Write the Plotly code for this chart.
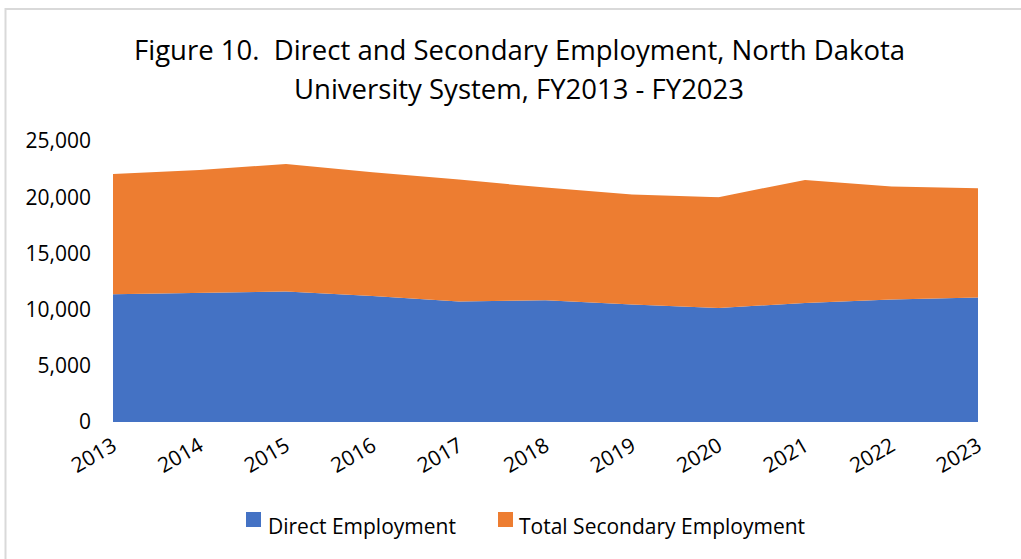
import plotly.graph_objects as go

years = [2013, 2014, 2015, 2016, 2017, 2018, 2019, 2020, 2021, 2022, 2023]
direct_employment = [11360, 11510, 11600, 11210, 10710, 10830, 10445, 10145, 10590, 10890, 11070]
secondary_employment = [10710, 10915, 11360, 11000, 10855, 10025, 9785, 9855, 10950, 10055, 9730]
y_ticks = [0, 5000, 10000, 15000, 20000, 25000]
series_names = ["Direct Employment", "Total Secondary Employment"]
series_colors = ["#4472C4", "#ED7D31"]
title_lines = ["Figure 10.  Direct and Secondary Employment, North Dakota",
               "University System, FY2013 - FY2023"]

FONT = "Open Sans"
L, R, T, B = 113, 978, 141, 422  # plot area in pixels


def px(x):
    return (x - L) / (R - L)


def py(y):
    return (B - y) / (B - T)


fig = go.Figure()
for vals, name, col in zip([direct_employment, secondary_employment], series_names, series_colors):
    fig.add_trace(go.Scatter(
        x=years, y=vals, name=name, mode="lines", stackgroup="one",
        line=dict(width=0, color=col), fillcolor=col, showlegend=False))

fig.update_layout(
    width=1021, height=559,
    margin=dict(l=L, r=1021 - R, t=T, b=559 - B),
    paper_bgcolor="white", plot_bgcolor="white",
    font=dict(family=FONT, color="#000000", size=21),
    xaxis=dict(
        range=[2013, 2023], tickmode="array", tickvals=years,
        ticktext=[str(y) for y in years], tickangle=-30,
        showgrid=False, zeroline=False, showline=False, ticks="",
        tickfont=dict(size=21), ticklabelstandoff=7),
    yaxis=dict(
        range=[0, 25000], tickvals=y_ticks, tickformat=",",
        showgrid=True, gridcolor="#D9D9D9", gridwidth=1,
        zeroline=False, showline=False, ticks="",
        tickfont=dict(size=21), ticklabelstandoff=21),
    showlegend=False,
)

# title (two lines)
for line, yy in zip(title_lines, [49.5, 88.5]):
    fig.add_annotation(
        text=line, xref="paper", yref="paper",
        x=px(519), y=py(yy),
        xanchor="center", yanchor="middle", showarrow=False,
        font=dict(family=FONT, size=27.5, color="#000000"))

# legend: square swatches + labels
for name, col, sx, tx in zip(series_names, series_colors, [246, 498], [266, 517]):
    fig.add_shape(type="rect", xref="paper", yref="paper",
                  x0=px(sx), x1=px(sx + 15), y0=py(527), y1=py(512),
                  line=dict(width=0), fillcolor=col)
    fig.add_annotation(
        text=name, xref="paper", yref="paper", x=px(tx), y=py(526),
        xanchor="left", yanchor="middle", showarrow=False,
        font=dict(family=FONT, size=21, color="#000000"))

# outer chart border
fig.add_shape(type="rect", xref="paper", yref="paper",
              x0=px(5.5), x1=px(1030), y0=py(570), y1=py(9),
              line=dict(color="#D9D9D9", width=2), fillcolor="rgba(0,0,0,0)",
              layer="below")

fig.write_html("out.html", config={"displayModeBar": False},
               post_script="document.body.style.margin='0px';")
